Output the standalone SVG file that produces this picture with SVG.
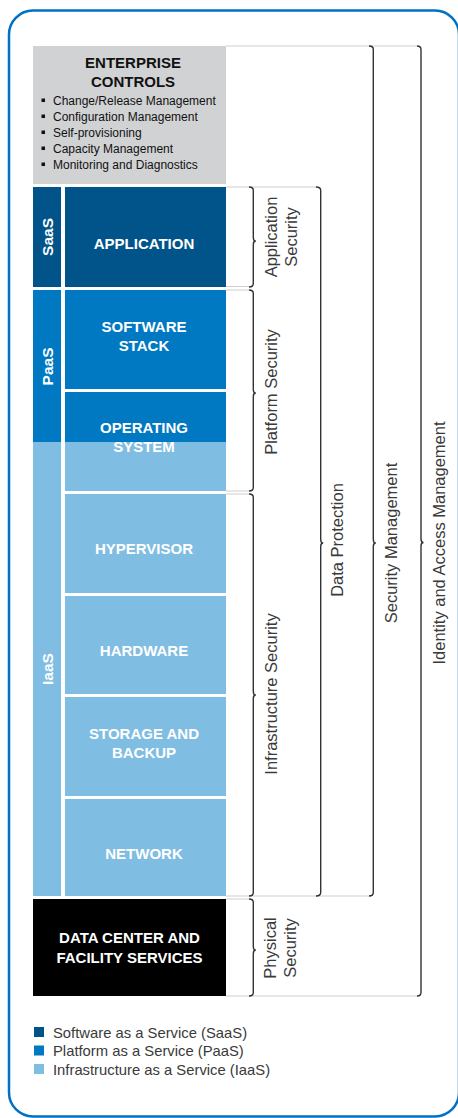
<svg xmlns="http://www.w3.org/2000/svg" width="458" height="1118" viewBox="0 0 458 1118">
<style>
.lbl{font-family:"Liberation Sans",Arial,sans-serif;font-weight:bold;font-size:15px;fill:#fff;text-anchor:middle}
.band{font-family:"Liberation Sans",Arial,sans-serif;font-weight:bold;font-size:15.5px;fill:#fff;text-anchor:middle}
.title{font-family:"Liberation Sans",Arial,sans-serif;font-weight:bold;font-size:15px;fill:#111;text-anchor:middle}
.bul{font-family:"Liberation Sans",Arial,sans-serif;font-size:12px;fill:#111}
.sec{font-family:"Liberation Sans",Arial,sans-serif;font-size:16.5px;fill:#3a3a3a;text-anchor:middle}
.leg{font-family:"Liberation Sans",Arial,sans-serif;font-size:14.8px;fill:#3a3a3a}
.brace{fill:none;stroke:#333;stroke-width:1.4}
.guide{fill:none;stroke:#cfcfcf;stroke-width:1.2}
.saas{fill:#00548a}.paas{fill:#0079c2}.iaas{fill:#80bde2}
</style>
<rect x="9" y="10.5" width="450" height="1106" rx="24" fill="#fff" stroke="#0071c5" stroke-width="2.5"/>

<g id="enterprise-controls">
<rect x="33" y="46" width="193" height="138" fill="#d1d2d4"/>
<text class="title" x="133" y="67.5">ENTERPRISE</text>
<text class="title" x="133" y="86.5">CONTROLS</text>
<rect x="41.5" y="98.5" width="3.5" height="3.5" fill="#111"/>
<rect x="41.5" y="114.5" width="3.5" height="3.5" fill="#111"/>
<rect x="41.5" y="130.5" width="3.5" height="3.5" fill="#111"/>
<rect x="41.5" y="146.5" width="3.5" height="3.5" fill="#111"/>
<rect x="41.5" y="162.5" width="3.5" height="3.5" fill="#111"/>
<text class="bul" x="53" y="104.5">Change/Release Management</text>
<text class="bul" x="53" y="120.5">Configuration Management</text>
<text class="bul" x="53" y="136.5">Self-provisioning</text>
<text class="bul" x="53" y="152.5">Capacity Management</text>
<text class="bul" x="53" y="168.5">Monitoring and Diagnostics</text>
</g>

<g id="band-saas">
<rect class="saas" x="33" y="187" width="28" height="100"/>
<text class="band" transform="translate(53,237) rotate(-90)">SaaS</text>
</g>
<g id="band-paas">
<rect class="paas" x="33" y="290" width="28" height="152"/>
<text class="band" transform="translate(53,366.5) rotate(-90)">PaaS</text>
</g>
<g id="band-iaas">
<rect class="iaas" x="33" y="442" width="28" height="454"/>
<text class="band" transform="translate(53,669) rotate(-90)">IaaS</text>
</g>

<g id="application">
<rect class="saas" x="65" y="187" width="161" height="100"/>
<text class="lbl" x="144" y="248.5">APPLICATION</text>
</g>
<g id="software-stack">
<rect class="paas" x="65" y="290" width="161" height="99"/>
<text class="lbl" x="144" y="332">SOFTWARE</text>
<text class="lbl" x="144" y="351">STACK</text>
</g>
<g id="operating-system">
<rect class="paas" x="65" y="392" width="161" height="50"/>
<rect class="iaas" x="65" y="442" width="161" height="49"/>
<text class="lbl" x="144" y="433">OPERATING</text>
<text class="lbl" x="144" y="452">SYSTEM</text>
</g>
<g id="hypervisor">
<rect class="iaas" x="65" y="494" width="161" height="99"/>
<text class="lbl" x="144" y="554">HYPERVISOR</text>
</g>
<g id="hardware">
<rect class="iaas" x="65" y="596" width="161" height="98"/>
<text class="lbl" x="144" y="656">HARDWARE</text>
</g>
<g id="storage-and-backup">
<rect class="iaas" x="65" y="697" width="161" height="99"/>
<text class="lbl" x="144" y="739">STORAGE AND</text>
<text class="lbl" x="144" y="758">BACKUP</text>
</g>
<g id="network">
<rect class="iaas" x="65" y="799" width="161" height="97"/>
<text class="lbl" x="144" y="859">NETWORK</text>
</g>
<g id="data-center">
<rect x="33" y="899" width="193" height="97" fill="#000"/>
<text class="lbl" x="129.5" y="943">DATA CENTER AND</text>
<text class="lbl" x="129.5" y="963">FACILITY SERVICES</text>
</g>

<g id="connectors">
<path class="guide" d="M226 46H417M226 187H316M226 286.5H249M226 290H249M226 491H249M226 494H249M226 896H369M226 899H249M226 996H417"/>
<path class="brace" d="M249 187Q253.3 187 253.3 190.5V237.5Q253.3 241 255.8 241Q253.3 241 253.3 244.5V283.5Q253.3 287 249 287"/>
<path class="brace" d="M249 290Q253.3 290 253.3 293.5V389.5Q253.3 393 255.8 393Q253.3 393 253.3 396.5V487.5Q253.3 491 249 491"/>
<path class="brace" d="M249 494Q253.3 494 253.3 497.5V691.5Q253.3 695 255.8 695Q253.3 695 253.3 698.5V892.5Q253.3 896 249 896"/>
<path class="brace" d="M249 899Q253.3 899 253.3 902.5V946.5Q253.3 950 255.8 950Q253.3 950 253.3 953.5V992.5Q253.3 996 249 996"/>
<path class="brace" d="M316 187Q320.7 187 320.7 190.5V539.5Q320.7 543 323.2 543Q320.7 543 320.7 546.5V892.5Q320.7 896 316 896"/>
<path class="brace" d="M369 46Q373.3 46 373.3 49.5V539.5Q373.3 543 375.8 543Q373.3 543 373.3 546.5V892.5Q373.3 896 369 896"/>
<path class="brace" d="M417 46Q421 46 421 49.5V539Q421 542.5 423.5 542.5Q421 542.5 421 546V992.5Q421 996 417 996"/>
</g>

<g id="application-security">
<text class="sec" transform="translate(277,237) rotate(-90)">Application</text>
<text class="sec" transform="translate(297,237) rotate(-90)">Security</text>
</g>
<g id="platform-security">
<text class="sec" transform="translate(277,392) rotate(-90)">Platform Security</text>
</g>
<g id="infrastructure-security">
<text class="sec" transform="translate(277,694) rotate(-90)">Infrastructure Security</text>
</g>
<g id="physical-security">
<text class="sec" transform="translate(276,948) rotate(-90)">Physical</text>
<text class="sec" transform="translate(296,948) rotate(-90)">Security</text>
</g>
<g id="data-protection">
<text class="sec" transform="translate(343,540) rotate(-90)">Data Protection</text>
</g>
<g id="security-management">
<text class="sec" transform="translate(397,543) rotate(-90)">Security Management</text>
</g>
<g id="identity-access-management">
<text class="sec" transform="translate(445,543) rotate(-90)">Identity and Access Management</text>
</g>

<g id="legend">
<rect class="saas" x="34" y="1027" width="10" height="10"/>
<rect class="paas" x="34" y="1045.5" width="10" height="10"/>
<rect class="iaas" x="34" y="1064" width="10" height="10"/>
<text class="leg" x="53" y="1037.5">Software as a Service (SaaS)</text>
<text class="leg" x="53" y="1056">Platform as a Service (PaaS)</text>
<text class="leg" x="53" y="1074.5">Infrastructure as a Service (IaaS)</text>
</g>
</svg>
